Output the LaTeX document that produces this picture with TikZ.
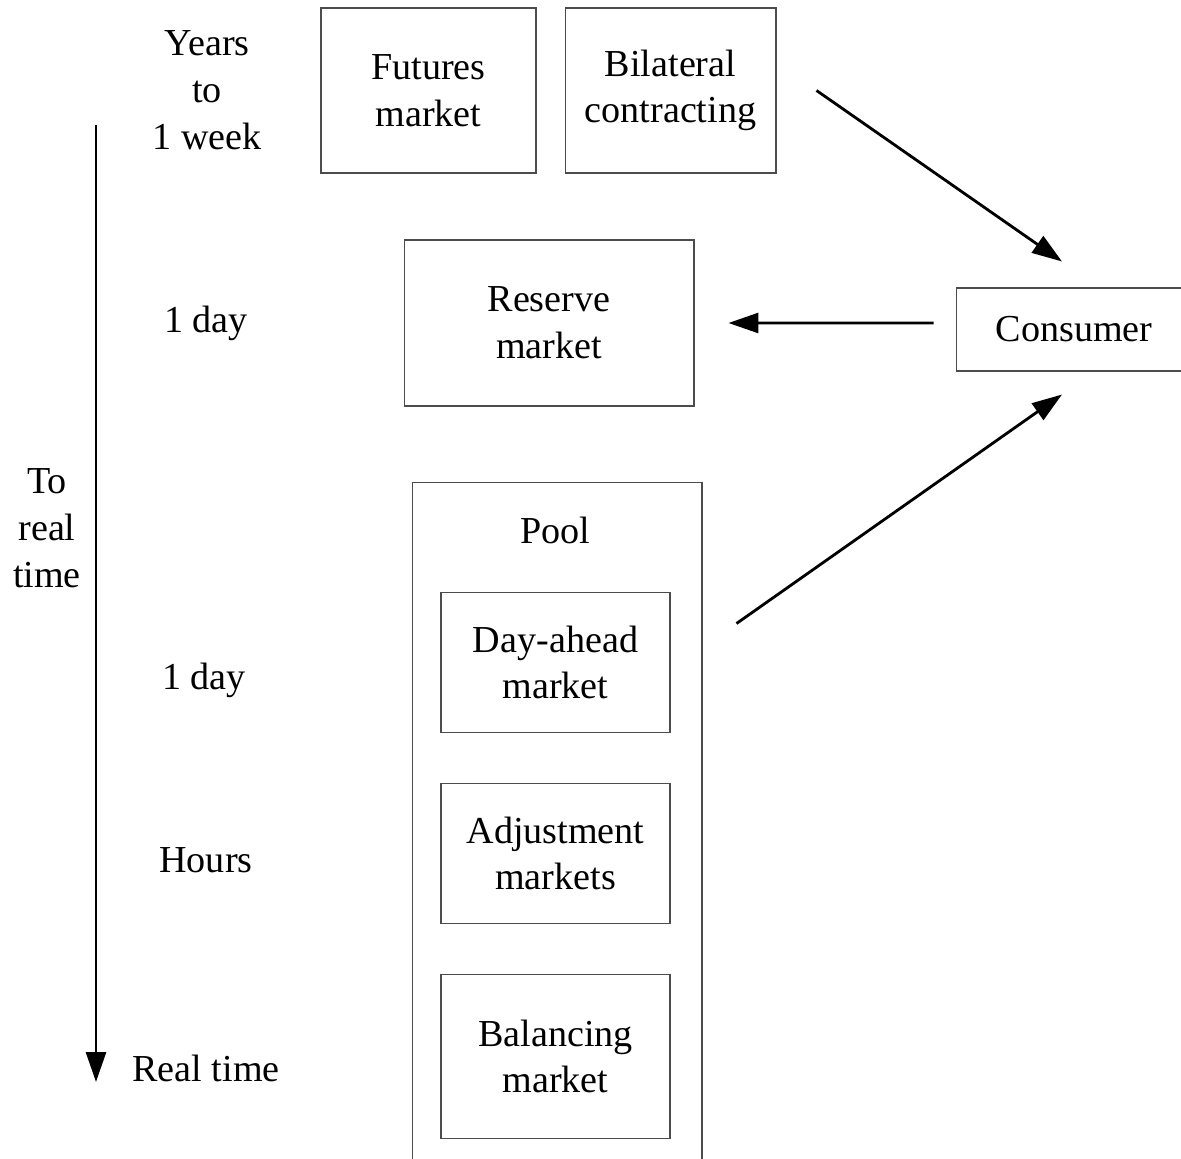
\documentclass[tikz,border=0pt]{standalone}
\usepackage{fontspec}
\setmainfont{Liberation Serif}
\usepackage{tikz}
\usetikzlibrary{arrows.meta}
\usetikzlibrary{positioning}

\begin{document}
\begin{tikzpicture}[x=0.02cm,y=-0.02cm,>={Triangle[length=0.6cm,width=0.4cm]},
  font=\fontsize{21.7}{26.6}\selectfont,
  box/.style={draw=black!70,line width=0.6pt,align=center,inner sep=0pt},
  flow/.style={->,line width=1.6pt}]

  \useasboundingbox (0,0) rectangle (1181,1159);
  \clip (0,0) rectangle (1181,1159);

  % markets
  \node[box,minimum width=4.3cm,minimum height=3.3cm] (fut) at (428.5,90.5) {Futures\\market};
  \node[box,minimum width=4.22cm,minimum height=3.3cm] (bil) [right=0.56cm of fut] {Bilateral\\contracting};
  \node[box,minimum width=5.8cm,minimum height=3.32cm] (res) at (549,323) {Reserve\\market};
  \node[box,minimum width=4.72cm,minimum height=1.66cm] (con) at (1074,329.5) {Consumer};

  \node[box,minimum width=5.8cm,minimum height=14cm,anchor=north] (pool) at (557,482) {};
  \node (pl) at (555.5,530) {Pool};
  \node[box,minimum width=4.58cm,minimum height=2.8cm,anchor=north] (dam) at (555.5,592) {Day-ahead\\market};
  \node[box,minimum width=4.58cm,minimum height=2.8cm] (adj) [below=1cm of dam] {Adjustment\\markets};
  \node[box,minimum width=4.58cm,minimum height=3.28cm] (bal) [below=1cm of adj] {Balancing\\market};

  % time scale
  \coordinate (tstart) at (96,125);
  \coordinate (tend) at (96,1082);
  \draw[flow] (tstart) -- (tend);
  \node[align=center] (toreal) at (47,528) {To\\real\\time};
  \node[align=center] (yrs) at (207,90) {Years\\to\\1 week};
  \node (day1) at (206,323) {1 day};
  \node (day2) at (204,680) {1 day};
  \node (hrs) at (206,860) {Hours};
  \node (rt) at (206,1068) {Real time};

  \path[flow]
    ([xshift=0.8cm]bil.east) edge ([xshift=-0.24cm,yshift=0.52cm]con.north)
    ([xshift=-0.44cm,yshift=0.13cm]con.west) edge ([xshift=0.68cm]res.east)
    ([xshift=1.32cm,yshift=0.78cm]dam.east) edge ([xshift=-0.24cm,yshift=-0.46cm]con.south);
\end{tikzpicture}
\end{document}
